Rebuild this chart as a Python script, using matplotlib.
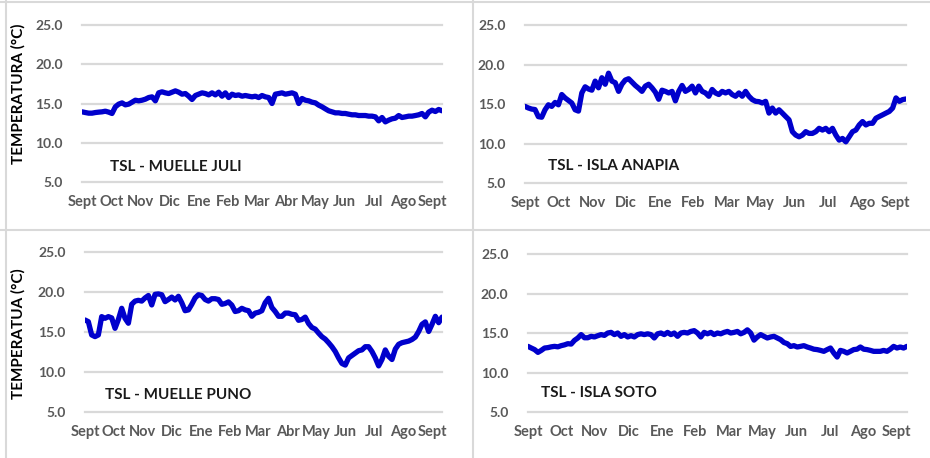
import numpy as np
import matplotlib
matplotlib.use("Agg")
import matplotlib.pyplot as plt
from matplotlib.lines import Line2D

plt.rcParams['font.family'] = ['Lato', 'DejaVu Sans']

# month labels (as written under each panel)
months_full = ['Sept', 'Oct', 'Nov', 'Dic', 'Ene', 'Feb', 'Mar', 'Abr', 'May', 'Jun', 'Jul', 'Ago', 'Sept']
months_short = ['Sept', 'Oct', 'Nov', 'Dic', 'Ene', 'Feb', 'Mar', 'May', 'Jun', 'Jul', 'Ago', 'Sept']

# water surface temperature (°C), roughly every 3 days
juli = [13.94, 13.85, 13.77, 13.77, 13.85, 13.9, 13.94, 14.02, 13.9, 13.73, 14.58, 14.92, 15.08,
        14.83, 14.92, 15.17, 15.42, 15.34, 15.42, 15.55, 15.76, 15.85, 15.34, 16.36, 16.49, 16.36,
        16.27, 16.44, 16.61, 16.44, 16.19, 16.27, 15.93, 15.51, 16.02, 16.19, 16.36, 16.27, 16.1,
        16.36, 16.1, 16.44, 15.93, 16.36, 15.76, 16.19, 16.02, 16.1, 15.93, 16.02, 15.93, 15.85,
        15.93, 15.76, 16.02, 15.85, 15.76, 15.0, 16.19, 16.27, 16.36, 16.19, 16.27, 16.36, 16.19,
        15.0, 15.64, 15.42, 15.34, 15.17, 15.08, 14.79, 14.58, 14.32, 14.07, 13.94, 13.81, 13.81,
        13.73, 13.73, 13.64, 13.56, 13.56, 13.47, 13.47, 13.47, 13.39, 13.39, 13.3, 12.79, 13.22,
        12.66, 12.88, 13.05, 13.13, 13.47, 13.22, 13.3, 13.39, 13.39, 13.47, 13.56, 13.73, 13.3,
        13.9, 14.15, 13.98, 14.24, 14.07]

anapia = [14.7, 14.5, 14.36, 14.3, 13.4, 13.33, 14.27, 14.9, 14.7, 15.2, 14.9, 16.2, 15.77, 15.45,
          15.13, 14.27, 14.1, 16.4, 17.18, 16.9, 16.75, 17.9, 17.05, 18.33, 17.5, 18.9, 17.9, 17.7,
          16.6, 17.5, 18.03, 18.2, 17.78, 17.35, 17.0, 16.6, 17.26, 17.5, 17.05, 16.5, 15.6, 16.75,
          16.6, 16.4, 16.6, 15.4, 16.6, 17.35, 16.6, 16.84, 17.26, 16.4, 17.26, 16.6, 16.4, 15.98,
          16.84, 16.4, 16.2, 16.6, 16.4, 16.6, 16.2, 15.98, 16.4, 15.98, 16.6, 15.98, 15.56, 15.34,
          15.3, 15.13, 15.34, 13.85, 14.49, 13.85, 14.27, 13.85, 13.42, 13.0, 11.5, 11.07, 10.85,
          11.07, 11.5, 11.28, 11.28, 11.5, 11.92, 11.7, 11.92, 11.5, 11.92, 11.07, 10.43, 10.64,
          10.21, 10.85, 11.5, 11.7, 12.35, 12.78, 12.35, 12.56, 12.56, 13.2, 13.42, 13.63, 13.85,
          14.06, 14.49, 15.77, 15.34, 15.56, 15.64]

puno = [16.54, 16.33, 14.67, 14.46, 14.67, 16.96, 16.75, 16.96, 16.8, 15.5, 16.6, 18.0, 16.75,
        16.13, 18.5, 18.9, 19.0, 18.9, 19.3, 19.6, 18.42, 19.75, 19.8, 19.7, 18.83, 19.1, 19.4,
        19.04, 19.5, 18.7, 17.7, 17.8, 18.5, 19.3, 19.7, 19.6, 19.1, 18.9, 19.2, 19.2, 19.1, 18.5,
        18.6, 18.8, 18.4, 17.6, 17.7, 18.0, 17.8, 17.7, 17.0, 17.4, 17.5, 17.7, 18.7, 19.25, 18.1,
        17.6, 17.0, 17.0, 17.4, 17.4, 17.25, 17.2, 16.5, 16.6, 16.9, 16.1, 15.6, 15.4, 14.9, 14.45,
        14.15, 13.7, 13.2, 12.6, 11.8, 11.1, 10.9, 11.8, 12.1, 12.4, 12.7, 12.8, 13.2, 13.2, 12.6,
        11.8, 10.8, 11.6, 12.8, 12.0, 11.6, 12.9, 13.5, 13.7, 13.8, 13.9, 14.1, 14.4, 15.1, 16.0,
        16.3, 15.1, 16.0, 17.0, 16.2, 16.9]

soto = [13.31, 13.1, 12.9, 12.55, 12.8, 13.1, 13.15, 13.25, 13.31, 13.25, 13.4, 13.5, 13.65, 13.6,
        14.07, 14.37, 14.8, 14.4, 14.4, 14.58, 14.5, 14.66, 14.8, 14.7, 15.0, 15.08, 14.8, 15.0,
        14.58, 14.8, 14.5, 14.66, 14.5, 14.8, 14.9, 14.8, 14.9, 14.8, 14.37, 14.9, 15.0, 14.8,
        15.08, 14.8, 15.0, 14.58, 15.0, 15.08, 15.0, 15.2, 15.3, 15.0, 14.5, 15.08, 14.9, 15.08,
        14.8, 15.0, 14.9, 15.08, 15.2, 15.0, 15.08, 15.2, 14.9, 15.08, 15.4, 15.0, 14.1, 14.5, 14.8,
        14.58, 14.37, 14.5, 14.58, 14.37, 14.16, 13.8, 13.65, 13.3, 13.4, 13.23, 13.31, 13.4,
        13.23, 13.1, 12.95, 12.9, 12.8, 12.68, 12.9, 13.1, 12.47, 11.96, 12.8, 12.68, 12.47, 12.68,
        12.9, 12.95, 13.23, 12.95, 12.9, 12.8, 12.68, 12.68, 12.68, 12.8, 12.68, 12.95, 13.31,
        13.1, 13.23, 13.1, 13.31]

yticks = [5, 10, 15, 20, 25]

line_color = '#0000CC'
grid_color = '#D9D9D9'
tick_color = '#595959'

fig = plt.figure(figsize=(9.3, 4.58), dpi=100)

panels = [
    # series, labels, title, axes rect, title pos (axes x, data y)
    (juli, months_full, 'TSL - MUELLE JULI', [0.0882, 0.6026, 0.3871, 0.3428], (0.078, 6.9)),
    (anapia, months_short, 'TSL - ISLA ANAPIA', [0.5645, 0.6004, 0.4097, 0.3450], (0.060, 7.15)),
    (puno, months_full, 'TSL - MUELLE PUNO', [0.0914, 0.0998, 0.3839, 0.3493], (0.056, 7.1)),
    (soto, months_short, 'TSL - ISLA SOTO', [0.5677, 0.1004, 0.4075, 0.3450], (0.034, 7.44)),
]

for data, labels, title, rect, tpos in panels:
    ax = fig.add_axes(rect)
    days = np.linspace(0, 365, len(data))
    ax.plot(days, data, color=line_color, lw=3.8, solid_joinstyle='round',
            solid_capstyle='round', zorder=3)
    ax.set_xlim(0, 365)
    ax.set_ylim(5, 25)
    ax.set_yticks(yticks)
    ax.set_yticklabels([f'{v:.1f}' for v in yticks])
    ax.set_xticks(np.linspace(0, 355, len(labels)))
    ax.set_xticklabels(labels)
    ax.tick_params(axis='both', length=0, colors=tick_color)
    ax.tick_params(axis='y', pad=14, labelsize=10)
    ax.tick_params(axis='x', pad=9, labelsize=10.5)
    for lab in ax.get_xticklabels() + ax.get_yticklabels():
        lab.set_fontweight('bold')
    for s in ax.spines.values():
        s.set_visible(False)
    ax.yaxis.grid(True, color=grid_color, lw=1.6)
    for gl in ax.get_ygridlines():
        gl.set_clip_on(False)
    ax.set_axisbelow(True)
    ax.text(tpos[0], tpos[1], title, transform=ax.get_yaxis_transform(),
            fontsize=11, fontweight='bold', color='#1a1a1a', va='center', ha='left')

fig.text(18 / 930, 1 - 94 / 458, 'TEMPERATURA (°C)', rotation=90, fontsize=11,
         fontweight='bold', color='black', ha='center', va='center')
fig.text(18 / 930, 1 - 334 / 458, 'TEMPERATUA (°C)', rotation=90, fontsize=11,
         fontweight='bold', color='black', ha='center', va='center')

# panel frames
frame_kw = dict(color=grid_color, lw=1.5, transform=fig.transFigure)
fig.add_artist(Line2D([6 / 930, 6 / 930], [0, 1], **frame_kw))
fig.add_artist(Line2D([473 / 930, 473 / 930], [0, 1], **frame_kw))
fig.add_artist(Line2D([0, 1], [1 - 1.5 / 458, 1 - 1.5 / 458], **frame_kw))
fig.add_artist(Line2D([0, 1], [1 - 230 / 458, 1 - 230 / 458], **frame_kw))

fig.savefig('out.png', dpi=100)
